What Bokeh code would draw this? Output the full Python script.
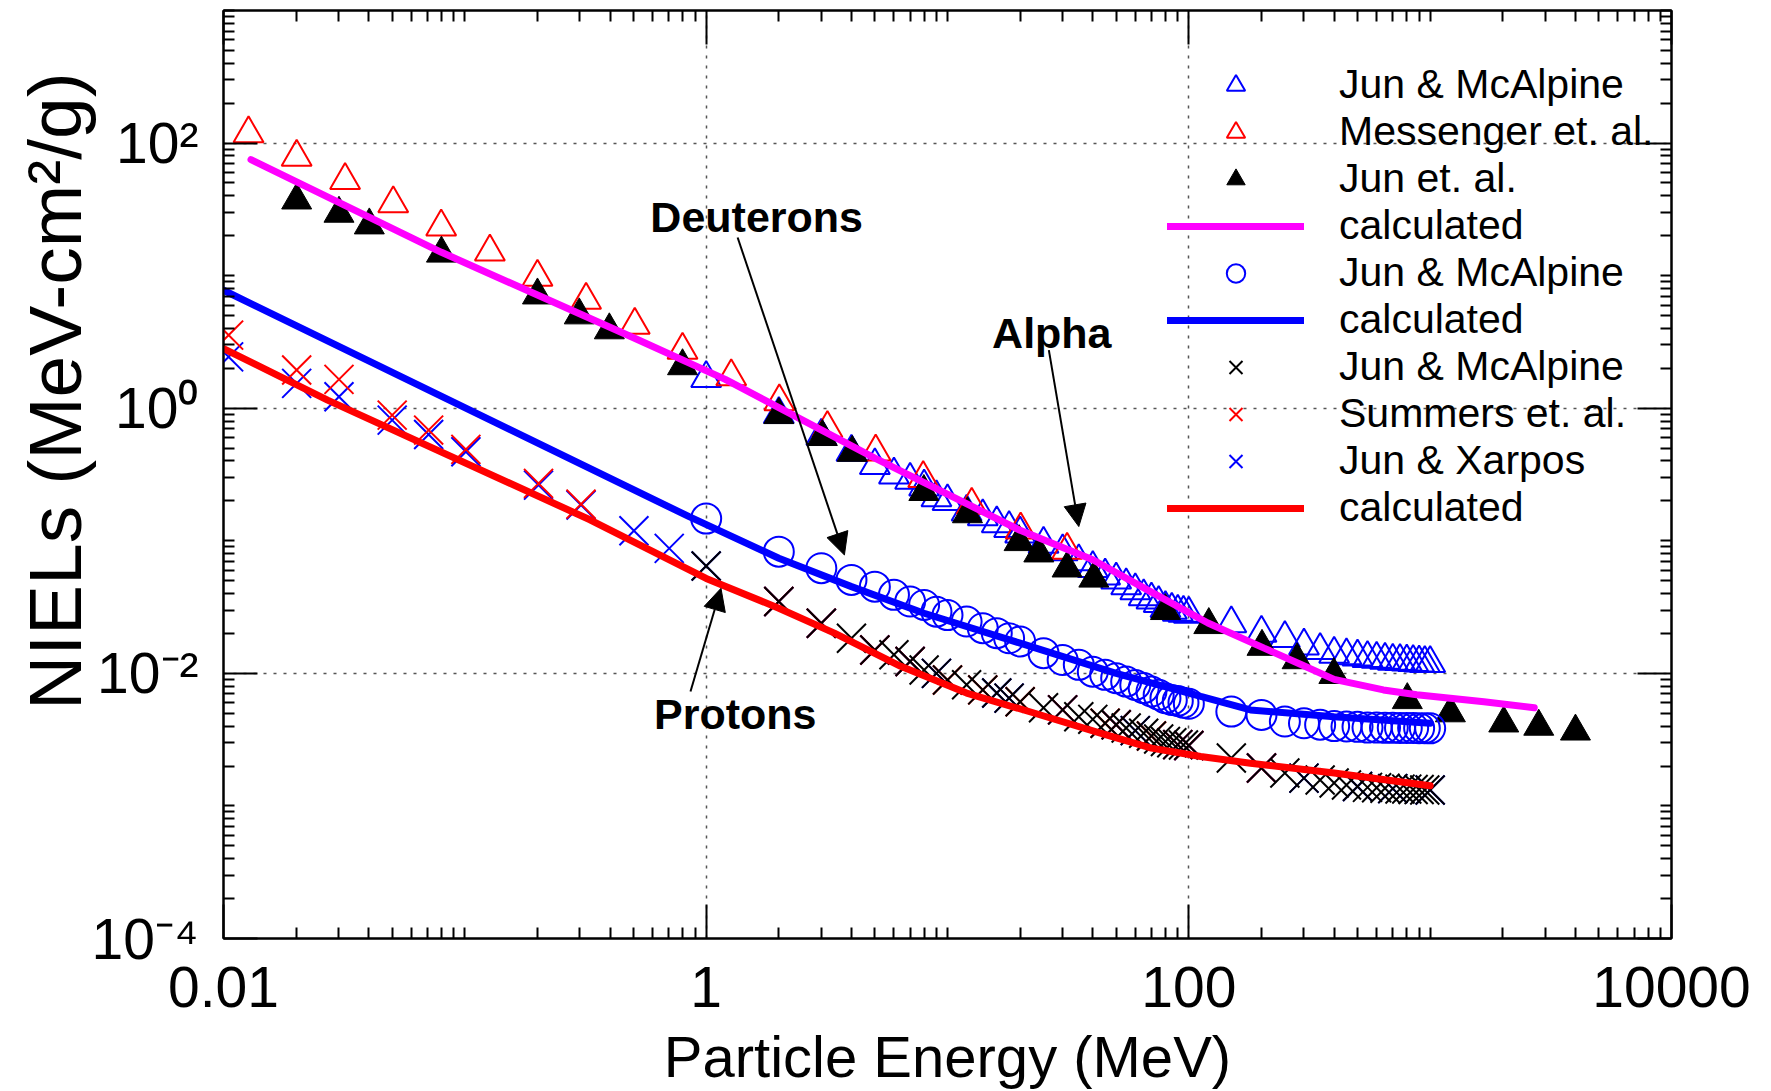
from bokeh.plotting import figure
from bokeh.models import (Range1d, LogAxis, FixedTicker, Legend, LegendItem, Label,
                          Arrow, NormalHead, CustomJSTickFormatter)
from bokeh.embed import file_html
from bokeh.resources import INLINE

FONT = "Liberation Sans"

# ---------------- data ----------------
# Alpha - Jun & McAlpine (blue open triangles)
alpha_jm_E = [1, 2, 3, 4, 5, 6, 7, 8, 9, 10, 12, 14, 16, 18, 20, 25, 30, 35, 40, 45, 50,
              55, 60, 65, 70, 75, 80, 85, 90, 95, 100, 150, 200, 250, 300, 350, 400, 450,
              500, 550, 600, 650, 700, 750, 800, 850, 900, 950, 1000]
alpha_jm_N = [1.68, 0.90, 0.617, 0.467, 0.37, 0.315, 0.287, 0.255, 0.212, 0.198, 0.165,
              0.152, 0.135, 0.124, 0.113, 0.0946, 0.0828, 0.0697, 0.0621, 0.0543, 0.0507,
              0.0459, 0.0421, 0.0379, 0.0358, 0.0338, 0.031, 0.030, 0.029, 0.0285, 0.028,
              0.0237, 0.0201, 0.0184, 0.0161, 0.0149, 0.0140, 0.0136, 0.0133, 0.0130,
              0.0128, 0.0126, 0.0124, 0.0123, 0.0122, 0.0121, 0.0120, 0.0119, 0.0119]
# Alpha - Messenger et. al. (red open triangles)
alpha_mes_E = [0.0127, 0.0201, 0.0319, 0.0505, 0.0798, 0.127, 0.2, 0.318, 0.506, 0.798,
               1.27, 2.01, 3.18, 5.04, 7.93, 12.6, 20.1, 31.3]
alpha_mes_N = [117.8, 78.4, 52.4, 34.9, 23.3, 15.1, 9.77, 6.53, 4.23, 2.74, 1.73, 1.12,
               0.705, 0.469, 0.296, 0.186, 0.121, 0.085]
# Alpha - Jun et. al. (black filled triangles)
alpha_jun_E = [0.0201, 0.0301, 0.0402, 0.080, 0.200, 0.298, 0.397, 0.798, 2.0, 3.03, 4.03,
               7.98, 12.1, 19.8, 23.9, 31.3, 40.4, 80, 121, 201, 281, 399, 804, 1213,
               2018, 2818, 4000]
alpha_jun_N = [37.0, 29.4, 24.0, 14.7, 7.11, 5.03, 3.88, 2.08, 0.89, 0.608, 0.462, 0.234,
               0.159, 0.098, 0.0805, 0.062, 0.052, 0.0296, 0.0232, 0.0159, 0.0126,
               0.00975, 0.0063, 0.00501, 0.0042, 0.00397, 0.00365]
# Alpha - calculated (magenta)
alpha_calc_E = [0.013, 0.08, 0.5, 1.2, 5, 20, 40, 70, 120, 205, 290, 400, 640, 880, 1670, 2700]
alpha_calc_N = [75, 15, 3.4, 1.65, 0.42, 0.12, 0.072, 0.041, 0.024, 0.0155, 0.0117, 0.0090,
                0.0075, 0.0069, 0.0061, 0.0055]

# Deuterons - Jun & McAlpine (blue circles)
deut_jm_E = [1, 2, 3, 4, 5, 6, 7, 8, 9, 10, 12, 14, 16, 18, 20, 25, 30, 35, 40, 45, 50,
             55, 60, 65, 70, 75, 80, 85, 90, 95, 100, 150, 200, 250, 300, 350, 400, 450,
             500, 550, 600, 650, 700, 750, 800, 850, 900, 950, 1000]
deut_jm_N = [0.147, 0.0828, 0.0621, 0.0507, 0.0451, 0.0391, 0.0348, 0.0328, 0.0292, 0.0275,
             0.0246, 0.0219, 0.0201, 0.0184, 0.0174, 0.0142, 0.0126, 0.0116, 0.0103,
             0.00975, 0.0092, 0.00867, 0.00818, 0.00774, 0.0073, 0.00689, 0.0065, 0.0063,
             0.0062, 0.0060, 0.0059, 0.00515, 0.00486, 0.00433, 0.0042, 0.0041, 0.0040,
             0.00397, 0.00395, 0.0039, 0.0039, 0.00388, 0.00388, 0.00387, 0.00387,
             0.00387, 0.00386, 0.00386, 0.00385]
# Deuterons - calculated (blue line)
deut_calc_E = [0.01, 0.85, 2, 4, 8, 20, 50, 112, 180, 400, 1000]
deut_calc_N = [7.76, 0.152, 0.0738, 0.0451, 0.0284, 0.0169, 0.0100, 0.0067, 0.0053, 0.0047, 0.0042]

# Protons - Jun & McAlpine (black x)
prot_jm_E = [1, 2, 3, 4, 5, 6, 7, 8, 9, 10, 12, 14, 16, 18, 20, 25, 30, 35, 40, 45, 50,
             55, 60, 65, 70, 75, 80, 85, 90, 95, 100, 150, 200, 250, 300, 350, 400, 450,
             500, 550, 600, 650, 700, 750, 800, 850, 900, 950, 1000]
prot_jm_N = [0.0646, 0.0348, 0.0239, 0.0184, 0.0150, 0.0138, 0.0123, 0.0106, 0.0100, 0.0089,
             0.0082, 0.0075, 0.0071, 0.0065, 0.0061, 0.0055, 0.0053, 0.0047, 0.0045, 0.0042,
             0.0041, 0.00387, 0.0037, 0.00353, 0.00337, 0.0032, 0.00306, 0.0030, 0.0029,
             0.00288, 0.00286, 0.0023, 0.00193, 0.00177, 0.00162, 0.00157, 0.00149,
             0.00144, 0.0014, 0.00138, 0.00137, 0.00136, 0.00135, 0.00134, 0.00134,
             0.00133, 0.00133, 0.00132, 0.00132]
# Protons - Summers et. al. (red x)
prot_sum_E = [0.0105, 0.0201, 0.0301, 0.05, 0.0708, 0.101, 0.202, 0.303, 2, 3, 5, 7, 10,
              14, 20, 30, 45, 50, 70, 90, 100, 200]
prot_sum_N = [3.56, 1.94, 1.65, 0.887, 0.684, 0.489, 0.271, 0.189, 0.0348, 0.0239, 0.0150,
              0.0123, 0.0089, 0.0075, 0.0061, 0.0053, 0.0042, 0.0041, 0.00337, 0.0029,
              0.00286, 0.00193]
# Protons - Jun & Xarpos (blue x)
prot_xar_E = [0.0105, 0.0201, 0.0301, 0.05, 0.0708, 0.101, 0.202, 0.303, 0.502, 0.703, 1.0,
              2, 3, 5, 7, 9, 16, 18, 30, 50, 60, 90, 100, 200, 300, 500, 700, 1000]
prot_xar_N = [2.44, 1.54, 1.22, 0.813, 0.634, 0.469, 0.263, 0.186, 0.119, 0.0877, 0.0646,
              0.0348, 0.0239, 0.0150, 0.0123, 0.0100, 0.0071, 0.0065, 0.0053, 0.0041,
              0.0037, 0.0029, 0.00286, 0.00193, 0.00162, 0.0014, 0.00135, 0.00132]
# Protons - calculated (red line)
prot_calc_E = [0.01, 0.027, 0.33, 1.0, 2.0, 3.4, 6.4, 12, 23, 43, 70, 112, 180, 400, 1000]
prot_calc_N = [2.82, 1.15, 0.144, 0.052, 0.031, 0.0201, 0.0113, 0.0071, 0.0050, 0.00354,
               0.00273, 0.00236, 0.0021, 0.00177, 0.00142]

# axis ticks / labels
x_major = [0.01, 1, 100, 10000]
x_labels = ["0.01", "1", "100", "10000"]
y_major = [1e-4, 1e-2, 1, 100]
y_labels = ["10\u207b\u2074", "10\u207b\u00b2", "10\u2070", "10\u00b2"]
x_minor = [m * 10.0 ** k for k in range(-2, 4) for m in range(2, 11)
           if all(abs(m * 10.0 ** k / t - 1) > 1e-6 for t in x_major)]
y_minor = [m * 10.0 ** k for k in range(-4, 3) for m in range(2, 11)
           if all(abs(m * 10.0 ** k / t - 1) > 1e-6 for t in y_major)]

# ---------------- figure ----------------
p = figure(width=1771, height=1091, x_axis_type="log", y_axis_type="log",
           x_range=Range1d(0.01, 10000), y_range=Range1d(1e-4, 1e3),
           output_backend="svg", toolbar_location=None,
           min_border_left=223, min_border_right=100, min_border_top=10, min_border_bottom=152)
p.outline_line_color = "black"
p.outline_line_width = 2
p.background_fill_color = "white"
p.border_fill_color = "white"

LOOKUP = """
const i = tvals.findIndex(t => Math.abs(t - tick) <= 1e-6 * t);
return i >= 0 ? tlabels[i] : '';
"""


def style_axis(ax, major, minor):
    ax.ticker = FixedTicker(ticks=major, minor_ticks=minor)
    ax.axis_line_width = 2
    ax.axis_line_color = "black"
    ax.major_tick_in = 34
    ax.major_tick_out = 0
    ax.minor_tick_in = 11
    ax.minor_tick_out = 0
    ax.major_tick_line_width = 2
    ax.minor_tick_line_width = 2
    ax.major_tick_line_color = "black"
    ax.minor_tick_line_color = "black"


def hide_labels(ax):
    ax.major_label_text_color = None
    ax.major_label_text_font_size = "1px"
    ax.major_label_standoff = 0


xa = p.xaxis[0]
style_axis(xa, x_major, x_minor)
xa.formatter = CustomJSTickFormatter(args=dict(tvals=x_major, tlabels=x_labels), code=LOOKUP)
xa.major_label_text_font = FONT
xa.major_label_text_font_size = "57px"
xa.major_label_text_color = "black"
xa.major_label_standoff = 28
xa.axis_label = "Particle Energy (MeV)"
xa.axis_label_text_font = FONT
xa.axis_label_text_font_size = "58px"
xa.axis_label_text_font_style = "normal"
xa.axis_label_text_color = "black"
xa.axis_label_standoff = 14

top = LogAxis()
style_axis(top, x_major, x_minor)
hide_labels(top)
p.add_layout(top, "above")

ya = p.yaxis[0]
style_axis(ya, y_major, y_minor)
ya.formatter = CustomJSTickFormatter(args=dict(tvals=y_major, tlabels=y_labels), code=LOOKUP)
ya.major_label_text_font = FONT
ya.major_label_text_font_size = "57px"
ya.major_label_text_color = "black"
ya.major_label_standoff = 25
ya.axis_label = "\u00a0" * 8 + "NIELs (MeV-cm\u00b2/g)"
ya.axis_label_text_font = FONT
ya.axis_label_text_font_size = "75px"
ya.axis_label_text_font_style = "normal"
ya.axis_label_text_color = "black"
ya.axis_label_standoff = -8

right = LogAxis()
style_axis(right, y_major, y_minor)
hide_labels(right)
p.add_layout(right, "right")

for g in (p.xgrid[0], p.ygrid[0]):
    g.grid_line_color = "#555555"
    g.grid_line_width = 1.5
    g.grid_line_dash = "3 7"
p.xgrid[0].ticker = FixedTicker(ticks=x_major)
p.ygrid[0].ticker = FixedTicker(ticks=y_major)

MS = 30
# alpha markers
r_a_jm = p.scatter(alpha_jm_E, alpha_jm_N, marker="triangle", size=MS, fill_color=None,
                   line_color="#0000ff", line_width=2)
r_a_mes = p.scatter(alpha_mes_E, alpha_mes_N, marker="triangle", size=MS, fill_color=None,
                    line_color="#ff0000", line_width=2)
r_a_jun = p.scatter(alpha_jun_E, alpha_jun_N, marker="triangle", size=MS, fill_color="black",
                    line_color="black", line_width=1)
# deuteron markers
r_d_jm = p.scatter(deut_jm_E, deut_jm_N, marker="circle", size=MS, fill_color=None,
                   line_color="#0000ff", line_width=2)
# proton markers
XS = 41
r_p_xar = p.scatter(prot_xar_E, prot_xar_N, marker="x", size=XS, line_color="#0000ff", line_width=2)
r_p_sum = p.scatter(prot_sum_E, prot_sum_N, marker="x", size=XS, line_color="#ff0000", line_width=2)
r_p_jm = p.scatter(prot_jm_E, prot_jm_N, marker="x", size=XS, line_color="black", line_width=2)

# calculated curves
r_a_calc = p.line(alpha_calc_E, alpha_calc_N, line_color="#ff00ff", line_width=7, line_cap="round")
r_d_calc = p.line(deut_calc_E, deut_calc_N, line_color="#0000ff", line_width=7, line_cap="round")
r_p_calc = p.line(prot_calc_E, prot_calc_N, line_color="#ff0000", line_width=7, line_cap="round")

# annotations
for txt, xx, yy in (("Deuterons", 0.587, 27.5), ("Alpha", 15.3, 3.7), ("Protons", 0.608, 0.0049)):
    p.add_layout(Label(x=xx, y=yy, text=txt, text_align="left", text_baseline="alphabetic",
                       text_font=FONT, text_font_size="43px", text_font_style="bold",
                       text_color="black"))

for xs, ys, xe, ye in ((1.35, 19.4, 3.74, 0.0782), (26.3, 2.74, 35.0, 0.128),
                       (0.861, 0.00729, 1.152, 0.0438)):
    p.add_layout(Arrow(x_start=xs, y_start=ys, x_end=xe, y_end=ye, line_width=2,
                       line_color="black",
                       end=NormalHead(size=22, fill_color="black", line_color="black")))

legend = Legend(items=[
    LegendItem(label="Jun & McAlpine", renderers=[r_a_jm]),
    LegendItem(label="Messenger et. al.", renderers=[r_a_mes]),
    LegendItem(label="Jun et. al.", renderers=[r_a_jun]),
    LegendItem(label="calculated", renderers=[r_a_calc]),
    LegendItem(label="Jun & McAlpine", renderers=[r_d_jm]),
    LegendItem(label="calculated", renderers=[r_d_calc]),
    LegendItem(label="Jun & McAlpine", renderers=[r_p_jm]),
    LegendItem(label="Summers et. al.", renderers=[r_p_sum]),
    LegendItem(label="Jun & Xarpos", renderers=[r_p_xar]),
    LegendItem(label="calculated", renderers=[r_p_calc]),
], location=(944, 407))
legend.label_text_font = FONT
legend.label_text_font_size = "41px"
legend.label_text_color = "black"
legend.glyph_width = 137
legend.glyph_height = 46
legend.label_height = 46
legend.label_standoff = 35
legend.spacing = 0
legend.padding = 0
legend.margin = 0
legend.border_line_alpha = 0
legend.background_fill_alpha = 0
p.add_layout(legend)

open("out.html", "w").write(file_html(p, INLINE))
